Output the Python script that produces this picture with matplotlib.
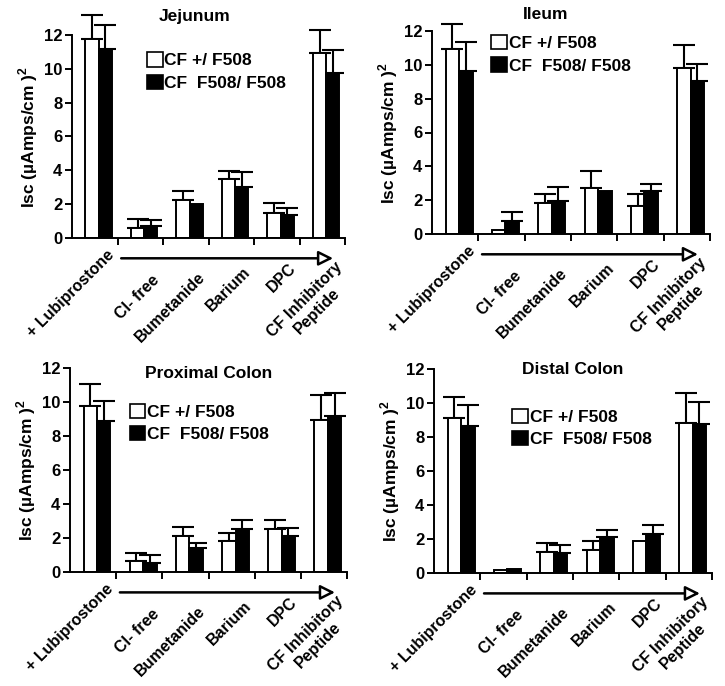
import numpy as np
import matplotlib
matplotlib.use("Agg")
import matplotlib.pyplot as plt
from matplotlib.patches import Patch

plt.rcParams['font.family'] = ['Liberation Sans', 'DejaVu Sans']
plt.rcParams['font.weight'] = 'bold'
plt.rcParams['mathtext.fontset'] = 'custom'
plt.rcParams['mathtext.bf'] = 'Liberation Sans:bold'
plt.rcParams['mathtext.rm'] = 'Liberation Sans:bold'

categories = ["+ Lubiprostone", "Cl- free", "Bumetanide", "Barium", "DPC",
              "CF Inhibitory\nPeptide"]
series_names = ["CF +/ F508", "CF  F508/ F508"]
titles = ["Jejunum", "Ileum", "Proximal Colon", "Distal Colon"]

# Jejunum
jej_het = [11.75, 0.57, 2.22, 3.46, 1.46, 10.96]
jej_het_err = [1.45, 0.53, 0.56, 0.50, 0.59, 1.32]
jej_hom = [11.20, 0.71, 2.03, 2.99, 1.36, 9.76]
jej_hom_err = [1.40, 0.35, 0.0, 0.91, 0.39, 1.38]
# Ileum
ile_het = [10.96, 0.22, 1.83, 2.73, 1.63, 9.82]
ile_het_err = [1.47, 0.0, 0.53, 1.02, 0.71, 1.36]
ile_hom = [9.65, 0.75, 1.95, 2.53, 2.53, 9.06]
ile_hom_err = [1.71, 0.53, 0.82, 0.0, 0.44, 0.98]
# Proximal colon
pc_het = [9.74, 0.63, 2.10, 1.83, 2.52, 8.94]
pc_het_err = [1.34, 0.51, 0.54, 0.49, 0.51, 1.49]
pc_hom = [8.86, 0.53, 1.40, 2.52, 2.10, 9.17]
pc_hom_err = [1.22, 0.45, 0.31, 0.51, 0.46, 1.36]
# Distal colon
dc_het = [9.13, 0.16, 1.26, 1.38, 1.87, 8.84]
dc_het_err = [1.22, 0.0, 0.51, 0.51, 0.0, 1.75]
dc_hom = [8.66, 0.26, 1.18, 2.09, 2.30, 8.74]
dc_hom_err = [1.22, 0.0, 0.47, 0.43, 0.50, 1.30]

yticks = [0, 2, 4, 6, 8, 10, 12]

panels = [
    (jej_het, jej_het_err, jej_hom, jej_hom_err),
    (ile_het, ile_het_err, ile_hom, ile_hom_err),
    (pc_het, pc_het_err, pc_hom, pc_hom_err),
    (dc_het, dc_het_err, dc_hom, dc_hom_err),
]

W, H = 725, 686
fig = plt.figure(figsize=(W / 100, H / 100), dpi=100)

# axes rectangles in pixels: left, right, y-of-zero, y-of-top
rects_px = [(72, 345, 238, 35), (432, 710, 234, 31),
            (70, 347, 572, 368), (434, 712, 573, 369)]
title_pos = [(0.45, 1.09), (0.41, 1.08), (0.50, 0.975), (0.50, 1.0)]
legend_pos = [(0.275, 0.915), (0.213, 0.98), (0.215, 0.825), (0.282, 0.805)]
label_pads = [7, 25, 23, 19, 16, 15]

bw = 0.29
for k, (het, het_err, hom, hom_err) in enumerate(panels):
    l, r, y0, yt = rects_px[k]
    ax = fig.add_axes([l / W, 1 - y0 / H, (r - l) / W, (y0 - yt) / H])
    x = np.arange(len(categories))
    xw = x - 0.06
    xb = x + 0.23
    ax.bar(xw, het, bw, color='white', edgecolor='black', linewidth=1.4, zorder=2)
    ax.bar(xb, hom, bw, color='black', edgecolor='black', linewidth=1.4, zorder=2)
    for xs, vals, errs in ((xw, het, het_err), (xb, hom, hom_err)):
        vals = np.array(vals); errs = np.array(errs)
        m = errs > 0
        ax.errorbar(xs[m], vals[m], yerr=[np.zeros(m.sum()), errs[m]], fmt='none',
                    ecolor='black', elinewidth=1.5, capsize=8, capthick=1.5,
                    clip_on=False, zorder=1)
    ax.set_xlim(-0.5, len(categories) - 0.5)
    ax.set_ylim(0, 12)
    ax.set_yticks(yticks)
    ax.set_yticklabels([str(v) for v in yticks], fontsize=12, fontweight='bold')
    ax.spines['top'].set_visible(False)
    ax.spines['right'].set_visible(False)
    ax.spines['left'].set_linewidth(1.4)
    ax.spines['bottom'].set_linewidth(1.4)
    ax.tick_params(axis='y', direction='out', length=5, width=1.4, pad=2)
    ax.set_xticks(x + 0.5)
    ax.set_xticklabels([])
    ax.tick_params(axis='x', which='major', direction='out', length=5, width=1.4)
    ax.set_xticks(x + 0.26, minor=True)
    ax.set_xticklabels(categories, minor=True, rotation=45, ha='right',
                       va='top', rotation_mode='anchor', fontsize=11.5,
                       fontweight='bold', multialignment='center')
    ax.tick_params(axis='x', which='minor', length=0)
    for t, p in zip(ax.xaxis.get_minor_ticks(), label_pads):
        t.set_pad(p)
    ax.set_ylabel('Isc (µAmps/cm )$^{\\mathbf{2}}$', fontsize=12.5,
                  fontweight='bold', labelpad=3)
    ax.text(title_pos[k][0], title_pos[k][1], titles[k], transform=ax.transAxes,
            ha='center', va='center', fontsize=12.5, fontweight='bold')
    handles = [Patch(facecolor='white', edgecolor='black', linewidth=1.2),
               Patch(facecolor='black', edgecolor='black', linewidth=1.2)]
    ax.legend(handles, series_names, loc='upper left',
              bbox_to_anchor=legend_pos[k], frameon=False,
              handlelength=0.9, handleheight=0.9, handletextpad=0.1,
              borderpad=0, borderaxespad=0, labelspacing=0.35,
              prop={'weight': 'bold', 'size': 12.5})
    ax.annotate('', xy=(5.3, -0.1), xytext=(0.52, -0.1),
                xycoords=('data', 'axes fraction'),
                textcoords=('data', 'axes fraction'),
                arrowprops=dict(arrowstyle='-|>', fc='white', ec='black',
                                lw=1.8, mutation_scale=22),
                annotation_clip=False)

fig.savefig('out.png', dpi=100)
